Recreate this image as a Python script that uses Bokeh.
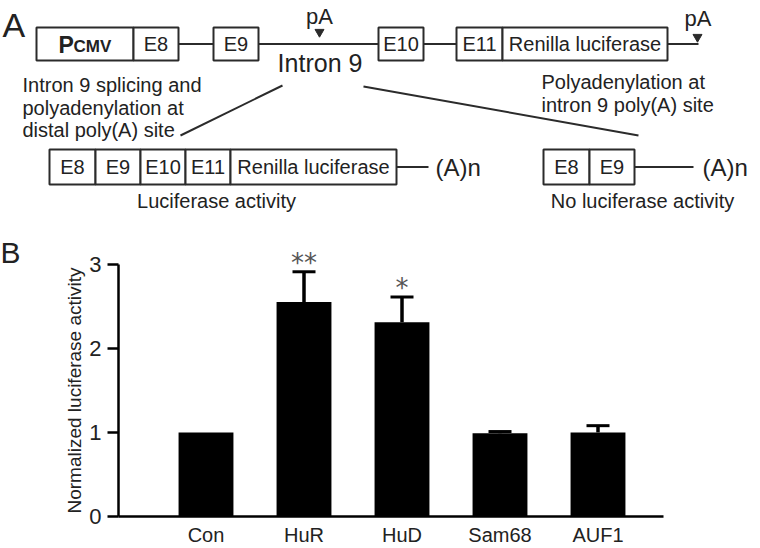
from bokeh.plotting import figure
from bokeh.models import Range1d, FixedTicker, Whisker, TeeHead, ColumnDataSource, LinearAxis
from bokeh.embed import file_html
from bokeh.resources import INLINE
from bokeh.core.properties import value

# ---------------- data (panel B) ----------------
categories = ["Con", "HuR", "HuD", "Sam68", "AUF1"]
activity = [1.00, 2.55, 2.31, 0.99, 1.00]
sem = [0.00, 0.36, 0.30, 0.02, 0.08]
significance = ["", "**", "*", "", ""]
y_ticks = [0, 1, 2, 3]
y_label = "Normalized luciferase activity"

FONT = "Liberation Sans"
TXT = "#222222"
LINE = "#2b2b2b"
W, H = 760, 548

# one canvas; the default ranges are page pixels for the diagram (panel A)
p = figure(width=W, height=H, x_range=Range1d(0, W), y_range=Range1d(H, 0),
           output_backend="svg", toolbar_location=None, min_border=0,
           x_axis_location=None, y_axis_location=None, outline_line_color=None)
p.grid.visible = False

# panel B scales: category index on x, activity on y, mapped into the lower part of the canvas
BAR0_PX, STEP_PX = 205.5, 98.0     # pixel centre of first category, category spacing
BASE_PX, UNIT_PX = 516.0, 84.1     # pixel of activity 0, pixels per unit
AXIS_LEFT, AXIS_RIGHT = -0.893, 4.668
p.extra_x_ranges = {"bx": Range1d(-BAR0_PX / STEP_PX, (W - BAR0_PX) / STEP_PX)}
p.extra_y_ranges = {"by": Range1d((BASE_PX - H) / UNIT_PX, BASE_PX / UNIT_PX)}


# ---------------- panel A : construct diagram ----------------
def boxes(row, top, bottom):
    p.quad(left=[b[0] for b in row], right=[b[1] for b in row], top=top, bottom=bottom,
           fill_color="white", line_color=LINE, line_width=2)
    labels = [b for b in row if b[2]]
    p.text(x=[(b[0] + b[1]) / 2 for b in labels], y=[(top + bottom) / 2] * len(labels),
           text=[b[2] for b in labels], text_align="center", text_baseline="middle",
           text_font=value(FONT), text_font_size="20px", text_color=TXT)


def lines(segs):
    p.segment(x0=[s[0] for s in segs], y0=[s[1] for s in segs],
              x1=[s[2] for s in segs], y1=[s[3] for s in segs],
              line_color=LINE, line_width=2)


def txt(x, y, t, size="20px", align="left", style="normal"):
    # y is the vertical centre of the capital letters
    p.text(x=[x], y=[y], text=[t], text_align=align, text_baseline="middle",
           text_font=value(FONT), text_font_size=size, text_color=TXT, text_font_style=style)


# unspliced reporter
boxes([(36, 133, ""), (133, 178, "E8"), (213, 258, "E9"), (378, 423, "E10"),
       (456, 502, "E11"), (502, 667, "Renilla luciferase")], 27, 60)
lines([(178, 43.5, 213, 43.5), (258, 43.5, 378, 43.5), (423, 43.5, 456, 43.5),
       (667, 43.5, 698, 43.5)])
txt(58, 44, "P", size="23px", style="bold")
txt(73, 46, "CMV", size="17px", style="bold")
p.scatter(x=[319, 697], y=[31.5, 36.5], marker="inverted_triangle", size=9,
          fill_color=LINE, line_color=LINE)
txt(319, 15.5, "pA", size="22px", align="center")
txt(697.5, 18, "pA", size="22px", align="center")
txt(319.5, 62.5, "Intron 9", size="25px", align="center")
txt(2, 24, "A", size="34px")

for i, s in enumerate(["Intron 9 splicing and", "polyadenylation at", "distal poly(A) site"]):
    txt(22, 84.5 + 22.5 * i, s)
for i, s in enumerate(["Polyadenylation at", "intron 9 poly(A) site"]):
    txt(541, 81.5 + 22.5 * i, s)

lines([(282, 85, 180, 135), (363, 86, 638, 135)])

# spliced product
boxes([(49, 95, "E8"), (95, 140, "E9"), (140, 185, "E10"), (185, 230, "E11"),
       (230, 396, "Renilla luciferase")], 149, 184)
lines([(396, 166.5, 428, 166.5), (634, 166.5, 693, 166.5)])
txt(435, 166.5, "(A)n", size="24px")
# intron-polyadenylated product
boxes([(543, 589, "E8"), (589, 634, "E9")], 149, 184)
txt(702, 166.5, "(A)n", size="24px")

txt(216, 200.5, "Luciferase activity", align="center")
txt(642, 200, "No luciferase activity", align="center")

txt(0, 252, "B", size="30px")

# ---------------- panel B : bar chart ----------------
xs = list(range(len(categories)))
src = ColumnDataSource(dict(x=xs, top=activity, upper=[a + e for a, e in zip(activity, sem)],
                            sig=significance))
err = ColumnDataSource(dict(
    x=[x for x, e in zip(xs, sem) if e > 0],
    top=[a for a, e in zip(activity, sem) if e > 0],
    upper=[a + e for a, e in zip(activity, sem) if e > 0]))

p.vbar(x="x", top="top", bottom=0, width=0.56, fill_color="black", line_color=None,
       source=src, x_range_name="bx", y_range_name="by")
p.add_layout(Whisker(base="x", lower="top", upper="upper", source=err,
                     x_range_name="bx", y_range_name="by",
                     line_color="black", line_width=3.5, lower_head=None,
                     upper_head=TeeHead(size=23, line_width=3, line_color="black")))
p.text(x="x", y="upper", text="sig", source=src, y_offset=-9,
       x_range_name="bx", y_range_name="by",
       text_align="center", text_baseline="alphabetic",
       text_font=value("DejaVu Sans"), text_font_size="26px", text_color="#555555")

yaxis = LinearAxis(x_range_name="bx", y_range_name="by", fixed_location=AXIS_LEFT,
                   bounds=(0, 3), ticker=FixedTicker(ticks=y_ticks),
                   major_tick_out=11, major_tick_in=0, minor_tick_line_color=None,
                   axis_line_width=2.5, major_tick_line_width=2.5,
                   axis_line_color="black", major_tick_line_color="black",
                   major_label_text_font=FONT, major_label_text_font_size="22px",
                   major_label_text_color=TXT, major_label_standoff=6,
                   axis_label=y_label, axis_label_text_font=FONT,
                   axis_label_text_font_style="normal", axis_label_text_font_size="19px",
                   axis_label_text_color=TXT, axis_label_standoff=1)
p.add_layout(yaxis, "left")

xaxis = LinearAxis(x_range_name="bx", y_range_name="by", fixed_location=0,
                   bounds=(AXIS_LEFT, AXIS_RIGHT), ticker=FixedTicker(ticks=xs),
                   major_label_overrides={i: c for i, c in enumerate(categories)},
                   major_tick_out=0, major_tick_in=0, minor_tick_line_color=None,
                   axis_line_width=2.5, axis_line_color="black",
                   major_label_text_font=FONT, major_label_text_font_size="20px",
                   major_label_text_color=TXT, major_label_standoff=7)
p.add_layout(xaxis, "below")

open("out.html", "w").write(file_html(p, INLINE))
